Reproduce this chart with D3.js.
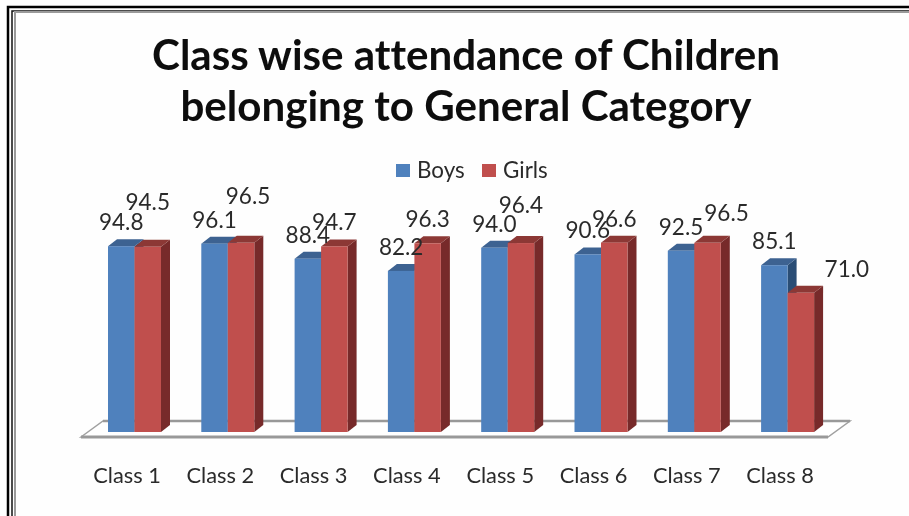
<!DOCTYPE html>
<html>
<head>
<meta charset="utf-8">
<script src="https://d3js.org/d3.v7.min.js"></script>
<style>
html,body{margin:0;padding:0;background:#fff;}
svg{display:block;}
text{font-family:Lato,"Open Sans",sans-serif;fill:#2b2b2b;font-variant-ligatures:none;}
</style>
</head>
<body>
<div id="chart"></div>
<script>
var classes = ["Class 1","Class 2","Class 3","Class 4","Class 5","Class 6","Class 7","Class 8"];
var seriesNames = ["Boys","Girls"];
var boys = [94.8,96.1,88.4,82.2,94.0,90.6,92.5,85.1];
var girls = [94.5,96.5,94.7,96.3,96.4,96.6,96.5,71.0];
var titleLines = ["Class wise attendance of Children","belonging to General Category"];

//the labels of the girls series were dragged by hand in the original
var girlsNudgeX = [0,7,0,0,0,0,19,46];
var girlsNudgeY = [-21,-23,0,0,-14,0,-6,0];

var W = 909, H = 516;
var DX = 9, DY = 7; //3d depth of the bars

var colors = {
	Boys:{front:"#4f81bd", top:"#3c6291", side:"#2c4d75"},
	Girls:{front:"#c0504d", top:"#8c3836", side:"#772c2a"}
};

var svg = d3.select("#chart").append("svg").attr("width",W).attr("height",H);

svg.append("defs").append("filter").attr("id","soft")
	.attr("x","-5%").attr("y","-5%").attr("width","110%").attr("height","110%")
	.append("feGaussianBlur").attr("stdDeviation",0.6);

svg.append("rect").attr("width",W).attr("height",H).attr("fill","#fefefe");

//page border, top and left only
var border = svg.append("g");
border.append("path").attr("d","M8,516 V7 H909").attr("fill","none").attr("stroke","#000").attr("stroke-width",2.5);
border.append("path").attr("d","M12,516 V11 H909").attr("fill","none").attr("stroke","#111").attr("stroke-width",1.5);
border.append("path").attr("d","M15,516 V12 H909").attr("fill","none").attr("stroke","#9a9a9a").attr("stroke-width",2);

var g = svg.append("g").attr("filter","url(#soft)");

var x = d3.scaleBand().domain(classes).range([87.85,87.85+8*93.3]);
var xSub = d3.scaleBand().domain(seriesNames).range([20.15,73.15]);
var y = d3.scaleLinear().domain([0,100]).range([432,236]);

//floor
g.append("path")
	.attr("d","M81,437 L103,421 H850 L828,437 Z")
	.attr("fill","#fff").attr("stroke","#a0a0a0").attr("stroke-width",1.5);
g.append("path").attr("d","M81,437 H828").attr("stroke","#999").attr("stroke-width",3.2);
g.append("path").attr("d","M103,421 H850").attr("stroke","#999").attr("stroke-width",2.6);

//bars
var rows = classes.map(function(c,i){
	return {cls:c, values:[{name:"Boys",v:boys[i]},{name:"Girls",v:girls[i]}]};
});

var groups = g.selectAll(".bar-group").data(rows).enter().append("g")
	.attr("class","bar-group")
	.attr("transform",function(d){return "translate("+x(d.cls)+",0)"});

var bars = groups.selectAll(".bar").data(function(d){return d.values}).enter().append("g").attr("class","bar");

bars.append("path").attr("fill",function(d){return colors[d.name].side}).attr("d",function(d){
	var r = xSub(d.name)+xSub.bandwidth(), t = y(d.v), b = y(0);
	return "M"+r+","+t+" l"+DX+","+(-DY)+" V"+(b-DY)+" L"+r+","+b+" Z";
});
bars.append("path").attr("fill",function(d){return colors[d.name].top}).attr("d",function(d){
	var l = xSub(d.name), t = y(d.v);
	return "M"+l+","+t+" l"+DX+","+(-DY)+" h"+xSub.bandwidth()+" l"+(-DX)+","+DY+" Z";
});
bars.append("rect")
	.attr("x",function(d){return xSub(d.name)})
	.attr("y",function(d){return y(d.v)})
	.attr("width",xSub.bandwidth())
	.attr("height",function(d){return y(0)-y(d.v)})
	.attr("fill",function(d){return colors[d.name].front});

//value labels, on top of everything
var labels = g.append("g").style("font-size","22.5px").attr("text-anchor","middle");
classes.forEach(function(c,i){
	labels.append("text")
		.attr("x",x(c)+xSub("Boys")+xSub.bandwidth()/2)
		.attr("y",y(boys[i])-16)
		.text(d3.format(".1f")(boys[i]));
	labels.append("text")
		.attr("x",x(c)+xSub("Girls")+xSub.bandwidth()/2+girlsNudgeX[i])
		.attr("y",y(girls[i])-16+girlsNudgeY[i])
		.text(d3.format(".1f")(girls[i]));
});

//category axis
var axis = g.append("g").attr("transform","translate(-7.5,463)")
	.call(d3.axisBottom(x).tickSize(0).tickPadding(0));
axis.select(".domain").remove();
axis.selectAll("text").style("font-size","21.8px").style("font-family","Lato,'Open Sans',sans-serif").attr("dy","0.92em");

//title
g.append("g").selectAll("text").data(titleLines).enter().append("text")
	.attr("x",466)
	.attr("y",function(d,i){return 70+i*51})
	.attr("text-anchor","middle")
	.style("font-size","42.1px").style("font-weight","700").style("fill","#0a0a0a")
	.text(function(d){return d});

//legend
var legendX = {Boys:396, Girls:482};
var legend = g.append("g").selectAll("g").data(seriesNames).enter().append("g")
	.attr("transform",function(d){return "translate("+legendX[d]+",164)"});
legend.append("rect").attr("width",14).attr("height",13).attr("fill",function(d){return colors[d].front});
legend.append("text").attr("x",21).attr("y",14).style("font-size","22.4px").text(function(d){return d});
</script>
</body>
</html>
